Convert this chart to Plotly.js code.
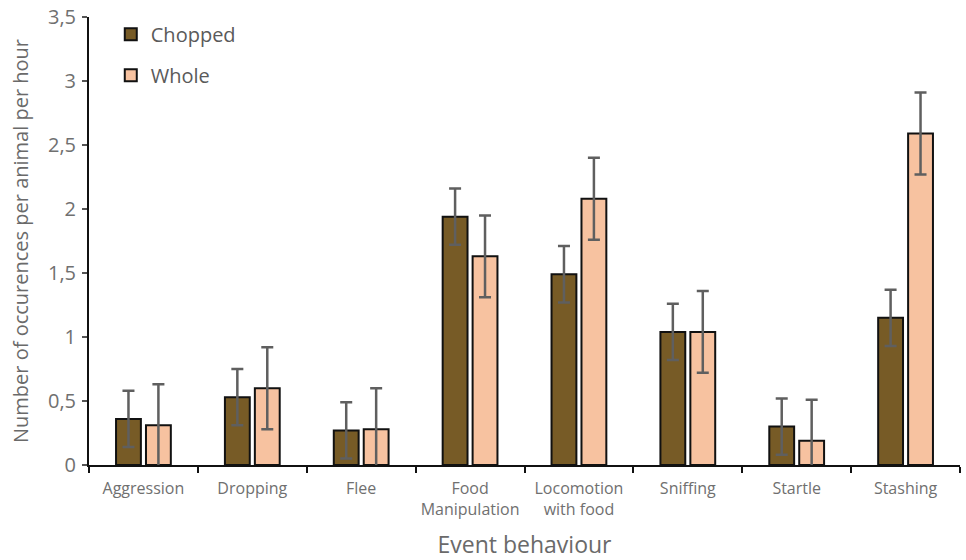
<!DOCTYPE html>
<html>
<head>
<meta charset="utf-8">
<script src="https://cdn.plot.ly/plotly-3.0.1.min.js"></script>
<style>html,body{margin:0;padding:0;background:#fff;}#chart{width:966px;height:560px;}</style>
</head>
<body>
<div id="chart"></div>
<script>
const categories = ["Aggression", "Dropping", "Flee", "Food<br>Manipulation", "Locomotion<br>with food", "Sniffing", "Startle", "Stashing"];
const choppedValues = [0.36, 0.53, 0.27, 1.94, 1.49, 1.04, 0.30, 1.15];
const choppedErrors = [0.22, 0.22, 0.22, 0.22, 0.22, 0.22, 0.22, 0.22];
const wholeValues = [0.31, 0.60, 0.28, 1.63, 2.08, 1.04, 0.19, 2.59];
const wholeErrors = [0.32, 0.32, 0.32, 0.32, 0.32, 0.32, 0.32, 0.32];
const yTicks = [0, 0.5, 1, 1.5, 2, 2.5, 3, 3.5];

const errStyle = (arr) => ({type: "data", array: arr, visible: true, color: "#5f5f5f", thickness: 2.5, width: 6});

const traces = [
  {type: "bar", name: "Chopped", x: categories, y: choppedValues, legendgroup: "a",
   marker: {color: "#775B26", line: {color: "#111", width: 2}}, error_y: errStyle(choppedErrors)},
  {type: "bar", name: "Whole", x: categories, y: wholeValues, legendgroup: "b",
   marker: {color: "#F7C2A0", line: {color: "#111", width: 2}}, error_y: errStyle(wholeErrors)}
];

const layout = {
  width: 966, height: 560,
  margin: {l: 89, r: 6, t: 17, b: 95},
  paper_bgcolor: "#fff", plot_bgcolor: "#fff",
  separators: ",.",
  barmode: "group", bargap: 0.45, bargroupgap: 0.17,
  font: {family: "Open Sans, sans-serif", color: "#6f6f6f"},
  showlegend: true,
  legend: {x: 0.025, y: 1.005, xanchor: "left", yanchor: "top", bgcolor: "rgba(0,0,0,0)",
           font: {size: 20, color: "#5a5a5a"}, traceorder: "grouped", tracegroupgap: 12, itemwidth: 30},
  xaxis: {
    showline: true, linecolor: "#111", linewidth: 2, ticks: "outside", tickson: "boundaries",
    ticklen: 6, tickcolor: "#111", tickwidth: 2, showgrid: false, zeroline: false,
    tickfont: {size: 16, color: "#707070"}, ticklabelstandoff: 8,
    title: {text: "Event behaviour", font: {size: 23, color: "#6a6a6a"}, standoff: 19}
  },
  yaxis: {
    range: [0, 3.5], tickvals: yTicks, showline: true, linecolor: "#111", linewidth: 2,
    ticks: "outside", ticklen: 5, tickcolor: "#555", tickwidth: 1.5, showgrid: false, zeroline: false,
    tickfont: {size: 20, color: "#707070"}, ticklabelstandoff: 2,
    title: {text: "Number of occurences per animal per hour", font: {size: 20, color: "#6a6a6a"}, standoff: 14}
  }
};

Plotly.newPlot("chart", traces, layout, {displayModeBar: false, staticPlot: true});
</script>
</body>
</html>
